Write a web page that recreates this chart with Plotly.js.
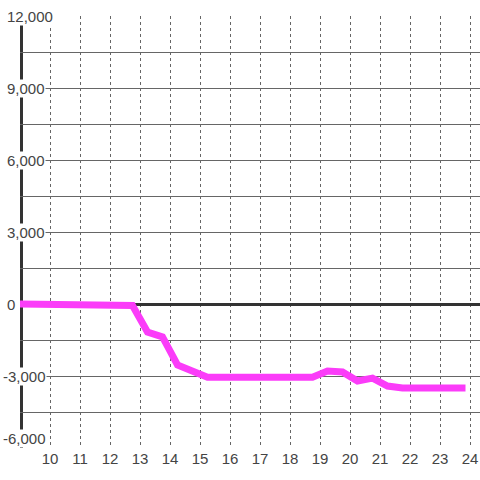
<!DOCTYPE html>
<html>
<head>
<meta charset="utf-8">
<script src="https://cdn.plot.ly/plotly-3.0.1.min.js"></script>
<style>html,body{margin:0;padding:0;background:#fff;}#chart{width:480px;height:480px;}</style>
</head>
<body>
<div id="chart"></div>
<script>
// Data
const hours = [9.0, 9.75, 10.25, 10.75, 11.25, 11.75, 12.25, 12.75, 13.25, 13.75, 14.25, 14.75, 15.25, 15.75, 16.25, 16.75, 17.25, 17.75, 18.25, 18.75, 19.25, 19.75, 20.25, 20.75, 21.25, 21.75, 22.25, 22.75, 23.25, 23.85];
const values = [0, 0, 0, 0, 0, 0, 0, -60, -1170, -1370, -2540, -2800, -3050, -3050, -3050, -3050, -3050, -3050, -3050, -3050, -2790, -2830, -3210, -3090, -3420, -3500, -3500, -3500, -3500, -3500];

const xTickVals = [10, 11, 12, 13, 14, 15, 16, 17, 18, 19, 20, 21, 22, 23, 24];
const xTickText = ['10', '11', '12', '13', '14', '15', '16', '17', '18', '19', '20', '21', '22', '23', '24'];
const yTickVals = [-6000, -3000, 0, 3000, 6000, 9000, 12000];
const yTickText = ['-6,000', '-3,000', '0', '3,000', '6,000', '9,000', '12,000'];

const FONT = 'Liberation Sans, Arial, sans-serif';
const TXT = '#444';
const GRID = '#666';
const X_START = 9;

const trace = {
  x: hours, y: values, type: 'scatter', mode: 'lines',
  line: {color: '#fb3cf9', width: 7},
  hoverinfo: 'skip'
};

const yMin = Math.min(...yTickVals);
const annotations = yTickVals.map((v, i) => ({
  xref: 'paper', yref: 'y', x: 0, y: v,
  xanchor: 'left', yanchor: v === yMin ? 'bottom' : 'middle',
  xshift: yTickText[i].startsWith('-') ? -18 : -14,
  text: yTickText[i], showarrow: false,
  bgcolor: '#fff', borderpad: 0,
  font: {family: FONT, size: 15, color: TXT}
}));

const layout = {
  width: 480, height: 480,
  margin: {l: 20, r: 0, t: 16, b: 32},
  paper_bgcolor: '#fff', plot_bgcolor: '#fff',
  showlegend: false,
  font: {family: FONT, size: 15, color: TXT},
  xaxis: {
    range: [X_START, 24.3333], tickmode: 'array', tickvals: xTickVals, ticktext: xTickText,
    showgrid: true, gridcolor: GRID, gridwidth: 1, griddash: 'dot',
    zeroline: false, showline: false, ticks: '',
    tickfont: {family: FONT, size: 15, color: TXT}
  },
  yaxis: {
    range: [-6000, 12000], tickmode: 'array', tickvals: yTickVals,
    showticklabels: false, ticks: '',
    showgrid: true, gridcolor: GRID, gridwidth: 1,
    minor: {dtick: 1500, tick0: 0, showgrid: true, gridcolor: GRID, gridwidth: 1, ticks: ''},
    zeroline: true, zerolinecolor: '#333', zerolinewidth: 3,
    showline: false
  },
  shapes: [{
    type: 'line', layer: 'between',
    xref: 'x', xsizemode: 'pixel', xanchor: X_START, x0: 1.5, x1: 1.5,
    yref: 'paper', y0: 0, y1: 1,
    line: {color: '#333', width: 3}
  }],
  annotations: annotations
};

Plotly.newPlot('chart', [trace], layout, {displayModeBar: false, staticPlot: true});
</script>
</body>
</html>
